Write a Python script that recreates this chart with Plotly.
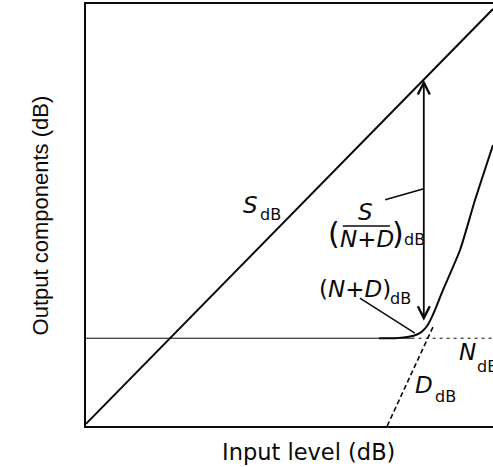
import plotly.graph_objects as go

# Input level axis (dB, arbitrary reference) and the output components
input_level = [0, 100]
signal_db = [0.5, 98.8]

noise_floor_db = 20.8
noise_solid_x = [0, 80]
noise_dotted_x = [80, 100]

distortion_x = [74, 85.5]
distortion_db = [0, 24.0]

nd_x = [72, 76, 78, 80.5, 82, 83, 84, 85.3, 87.7, 91.9, 95.6, 100]
nd_db = [20.8, 20.8, 21.0, 21.4, 22.0, 22.8, 24.0, 26.5, 32.2, 41.7, 53.6, 66.6]

# S/(N+D) measurement marker: input level where the ratio is read
sndr_x = 83.0
sndr_bottom_db = 24.6
sndr_top_db = 82.0

INK = "#0a0a0a"
LABEL_FONT = "DejaVu Sans"

fig = go.Figure()

fig.add_trace(go.Scatter(x=input_level, y=signal_db, mode="lines",
                         line=dict(color=INK, width=2)))
fig.add_trace(go.Scatter(x=noise_solid_x, y=[noise_floor_db] * 2, mode="lines",
                         line=dict(color=INK, width=1)))
fig.add_trace(go.Scatter(x=noise_dotted_x, y=[noise_floor_db] * 2, mode="lines",
                         line=dict(color=INK, width=1, dash="3px,4px")))
fig.add_trace(go.Scatter(x=distortion_x, y=distortion_db, mode="lines",
                         line=dict(color=INK, width=1.6, dash="5px,3px")))
fig.add_trace(go.Scatter(x=nd_x, y=nd_db, mode="lines",
                         line=dict(color=INK, width=2, shape="spline", smoothing=0.6)))

# leader lines from the labels to their curves
fig.add_trace(go.Scatter(x=[73.5, sndr_x], y=[53.6, 56.2], mode="lines",
                         line=dict(color=INK, width=1.5)))
fig.add_trace(go.Scatter(x=[67.3, 80.8], y=[30.3, 22.0], mode="lines",
                         line=dict(color=INK, width=1.5)))


def label(text, x, y, size, anchor="left"):
    return dict(text=text, x=x, y=y, xref="x", yref="y", xanchor=anchor,
                yanchor="middle", showarrow=False, borderpad=0,
                font=dict(family=LABEL_FONT, size=size, color=INK))


annotations = [
    # double-headed S/(N+D) arrow
    dict(x=sndr_x, y=sndr_top_db, ax=sndr_x, ay=sndr_bottom_db,
         xref="x", yref="y", axref="x", ayref="y", text="",
         showarrow=True, arrowhead=5, startarrowhead=5, arrowside="end+start",
         arrowsize=1.3, startarrowsize=1.3, arrowwidth=1.8, arrowcolor=INK,
         standoff=0, startstandoff=0),
    label("<i>S</i>", 38.3, 52.4, 23),
    label("dB", 42.5, 50.2, 16),
    label("<i>S</i>", 68.7, 50.7, 23, "center"),
    label("<i>N</i>+<i>D</i>", 69.0, 44.3, 23, "center"),
    label("(", 60.9, 45.7, 30, "center"),
    label(")", 76.6, 45.7, 30, "center"),
    label("dB", 78.0, 44.1, 16),
    label("(<i>N</i>+<i>D</i>)", 57.0, 32.5, 23),
    label("dB", 74.4, 30.1, 16),
    label("<i>N</i>", 91.4, 17.5, 23),
    label("dB", 95.8, 14.0, 16),
    label("<i>D</i>", 80.6, 9.7, 23),
    label("dB", 85.5, 7.1, 16),
    dict(text="Input level (dB)", x=0.5455, y=-0.062, xref="paper", yref="paper",
         xanchor="center", yanchor="middle", showarrow=False,
         font=dict(family=LABEL_FONT, size=22.5, color=INK)),
    dict(text="Output components (dB)", x=-0.112, y=0.5, xref="paper", yref="paper",
         xanchor="center", yanchor="middle", showarrow=False, textangle=-90,
         font=dict(family="Liberation Sans", size=22, color=INK)),
]

fig.update_layout(
    width=493, height=467,
    margin=dict(l=86, r=0, t=4, b=41),
    paper_bgcolor="white", plot_bgcolor="white",
    showlegend=False,
    annotations=annotations,
    shapes=[dict(type="line", xref="x", yref="y", x0=63.1, x1=74.7, y0=47.4, y1=47.4,
                 line=dict(color=INK, width=1.5))],
    xaxis=dict(range=[0, 100], showgrid=False, zeroline=False, showticklabels=False,
               ticks="", showline=True, mirror=True, linecolor=INK, linewidth=1.6),
    yaxis=dict(range=[0, 100], showgrid=False, zeroline=False, showticklabels=False,
               ticks="", showline=True, mirror=False, linecolor=INK, linewidth=1.6),
)

fig.write_html("out.html")
